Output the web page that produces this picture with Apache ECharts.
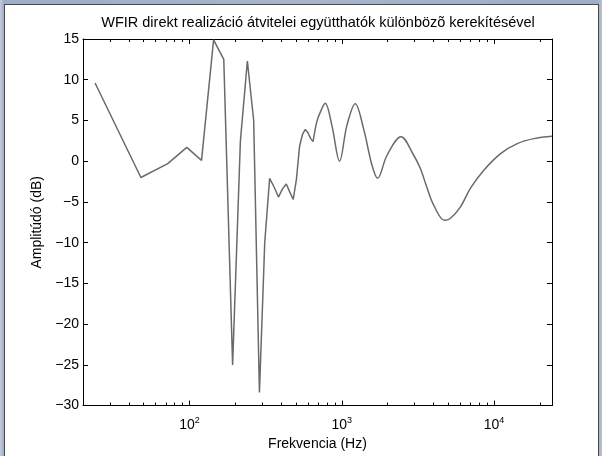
<!DOCTYPE html>
<html>
<head>
<meta charset="utf-8">
<script src="https://cdn.jsdelivr.net/npm/echarts@6/dist/echarts.min.js"></script>
<style>
  html, body { margin: 0; padding: 0; width: 602px; height: 456px; overflow: hidden;
    background: linear-gradient(90deg, #c3cbdd 0px, #9eadc8 4px, #a7b4cc 50%, #9eadc8 598px, #b8c2d6 602px); }
  #frame { position: absolute; left: 4px; top: 4px; width: 593px; height: 460px;
    background: #ffffff; border: 1px solid #4a4a4a; }
  #chart { position: absolute; left: 0; top: 0; width: 602px; height: 456px; }
</style>
</head>
<body>
<div id="frame"></div>
<div id="chart"></div>
<script>
// Linearly spaced low-frequency samples (Hz) and their amplitudes (dB): straight segments
const freqsLow = [24, 48, 72, 96, 120, 144, 168, 192, 216, 240, 264, 288, 312, 336, 360, 384, 408, 432, 456, 480, 504, 528, 552, 576, 600, 624, 648];
const ampsLow  = [9.6, -2.0, -0.3, 1.7, 0.1, 14.9, 12.5, -25.0, 2.5, 12.3, 5.0, -28.4, -10.0, -2.1, -3.2, -4.4, -3.4, -2.8, -3.8, -4.7, -2.2, 1.8, 3.3, 3.9, 3.5, 2.8, 2.4];
// Smooth high-frequency part (Hz, dB)
const freqsHigh = [648, 686, 722, 778, 861, 967, 1081, 1226, 1390, 1579, 1719, 1982, 2450, 2966, 3282, 3633, 4015, 4721, 5170, 6016, 7000, 8564, 11030, 14200, 18260, 24000];
const ampsHigh  = [2.4, 4.85, 6.0, 7.1, 4.4, 0.0, 4.4, 7.05, 4.0, -0.5, -2.1, 0.73, 3.0, 0.73, -0.9, -3.3, -5.4, -7.25, -7.0, -5.6, -3.3, -1.1, 0.94, 2.16, 2.77, 3.05];

const xMinHz = 20, xMaxHz = 24000;
const majorDecades = [2, 3, 4];            // 10^2, 10^3, 10^4
const minorHz = [30, 40, 50, 60, 70, 80, 90, 200, 300, 400, 500, 600, 700, 800, 900,
                 2000, 3000, 4000, 5000, 6000, 7000, 8000, 9000, 20000];
const yTicks = { min: -30, max: 15, step: 5 };

const titleText = 'WFIR direkt realizáció átvitelei együtthatók különbözõ kerekítésével';
const xName = 'Frekvencia (Hz)';
const yName = 'Amplitúdó (dB)';

const L = Math.log10;
const lowData = freqsLow.map((f, i) => [L(f), ampsLow[i]]);
const highData = freqsHigh.map((f, i) => [L(f), ampsHigh[i]]);
const minorLogs = minorHz.map(L);
const FONT = 'Liberation Sans, Arial, Helvetica, sans-serif';
const FS = 14;
const lineColor = '#6a6a6a';

function xAxisDef(position, major, showLine, withLabel) {
  const vals = major ? majorDecades : minorLogs;
  return {
    type: 'value', position: position, min: L(xMinHz), max: L(xMaxHz),
    axisLine: { show: showLine, onZero: false, lineStyle: { color: '#000', width: 1 } },
    axisTick: { show: true, inside: true, length: major ? 5 : 3, customValues: vals,
                lineStyle: { color: '#000', width: 1 } },
    axisLabel: withLabel ? {
      show: true, customValues: vals, margin: 10, color: '#000',
      formatter: v => '{b|10}{s|' + Math.round(v) + '}',
      rich: {
        b: { fontSize: FS, fontFamily: FONT, color: '#000' },
        s: { fontSize: 9, fontFamily: FONT, color: '#000', padding: [0, 0, 10, 0] }
      }
    } : { show: false, customValues: vals },
    splitLine: { show: false },
    name: withLabel ? xName : '', nameLocation: 'middle', nameGap: 25,
    nameTextStyle: { fontSize: FS, fontFamily: FONT, color: '#000' }
  };
}

function yAxisDef(position, withLabel) {
  return {
    type: 'value', position: position, min: yTicks.min, max: yTicks.max, interval: yTicks.step,
    axisLine: { show: true, onZero: false, lineStyle: { color: '#000', width: 1 } },
    axisTick: { show: true, inside: true, length: 5, lineStyle: { color: '#000', width: 1 } },
    axisLabel: withLabel ? { show: true, margin: 4, fontSize: FS, fontFamily: FONT, color: '#000',
                 formatter: v => String(v).replace('-', '\u2212') } : { show: false },
    splitLine: { show: false },
    name: withLabel ? yName : '', nameLocation: 'middle', nameGap: 35,
    nameTextStyle: { fontSize: FS, fontFamily: FONT, color: '#000' }
  };
}

const chart = echarts.init(document.getElementById('chart'), null, { renderer: 'canvas' });
chart.setOption({
  animation: false,
  backgroundColor: 'transparent',
  title: {
    text: titleText, left: 318, top: 15, textAlign: 'center', padding: 0,
    textStyle: { fontSize: 14.5, fontWeight: 'normal', fontFamily: FONT, color: '#000' }
  },
  grid: { left: 83, top: 39, width: 469, height: 369, containLabel: false },
  xAxis: [
    xAxisDef('bottom', true, true, true),
    xAxisDef('bottom', false, false, false),
    xAxisDef('top', true, true, false),
    xAxisDef('top', false, false, false)
  ],
  yAxis: [yAxisDef('left', true), yAxisDef('right', false)],
  series: [
    { type: 'line', data: lowData, xAxisIndex: 0, yAxisIndex: 0, showSymbol: false, symbol: 'none',
      lineStyle: { color: lineColor, width: 1.5 }, z: 3 },
    { type: 'line', data: highData, xAxisIndex: 0, yAxisIndex: 0, showSymbol: false, symbol: 'none',
      smooth: 0.35, lineStyle: { color: lineColor, width: 1.5 }, z: 3 }
  ]
});
</script>
</body>
</html>
